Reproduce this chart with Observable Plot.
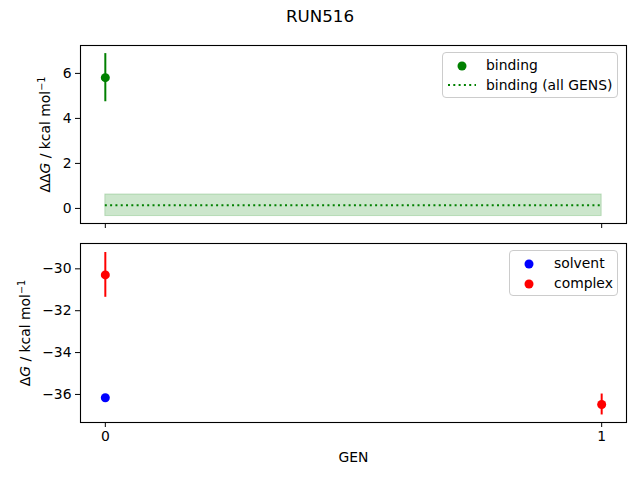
<!DOCTYPE html>
<html><head><meta charset="utf-8">
<script src="https://cdn.jsdelivr.net/npm/d3@7"></script>
<script src="https://cdn.jsdelivr.net/npm/@observablehq/plot@0.6"></script>
<style>
body{margin:0;background:#fff;font-family:"DejaVu Sans",sans-serif;}
#wrap{position:relative;width:640px;height:480px;overflow:hidden;}
#title{position:absolute;left:0;top:0;width:640px;text-align:center;font-size:16.7px;line-height:33px;color:#000;}
#top{position:absolute;left:0;top:30px;}
#bot{position:absolute;left:0;top:233px;}
.legend{position:absolute;background:rgba(255,255,255,0.8);border:1px solid #cccccc;border-radius:4px;font-size:13.9px;color:#000;box-sizing:border-box;}
.row{position:absolute;left:0;height:20px;line-height:20px;white-space:nowrap;}
.row svg{position:absolute;left:0;top:0;}
.row span{position:absolute;}
</style>
</head><body>
<div id="wrap">
  <div id="title">RUN516</div>
  <div id="top"></div>
  <div id="bot"></div>
  <div class="legend" style="left:442px;top:52px;width:176px;height:46px;">
    <div class="row" style="top:2px;width:176px;"><svg width="40" height="20"><circle cx="19" cy="11" r="4.5" fill="green"/></svg><span style="left:43px;top:0">binding</span></div>
    <div class="row" style="top:22px;width:176px;"><svg width="40" height="20"><line x1="5" x2="33" y1="10" y2="10" stroke="green" stroke-width="2" stroke-dasharray="2,3.3"/></svg><span style="left:43px;top:0">binding (all GENS)</span></div>
  </div>
  <div class="legend" style="left:509px;top:250px;width:109px;height:46px;">
    <div class="row" style="top:2px;width:109px;"><svg width="40" height="20"><circle cx="19" cy="11" r="4.5" fill="blue"/></svg><span style="left:44px;top:0">solvent</span></div>
    <div class="row" style="top:22px;width:109px;"><svg width="40" height="20"><circle cx="19" cy="11" r="4.5" fill="red"/></svg><span style="left:44px;top:0">complex</span></div>
  </div>
</div>
<script>
// ---- data ----
const bindingGens = [0];
const bindingValues = [5.81];
const bindingErrors = [1.07];

const allGensRange = [0, 1];
const allGensValue = 0.14;
const allGensError = 0.48;

const solventGens = [0];
const solventValues = [-36.16];
const solventErrors = [0.0];

const complexGens = [0, 1];
const complexValues = [-30.29, -36.48];
const complexErrors = [1.07, 0.50];

const xTicks = [0, 1];
const topYTicks = [0, 2, 4, 6];
const bottomYTicks = [-36, -34, -32, -30];

// ---- tables ----
const binding = bindingGens.map((g, i) => ({gen: g, v: bindingValues[i], e: bindingErrors[i]}));
const allGens = [{g0: allGensRange[0], g1: allGensRange[1], v: allGensValue, e: allGensError}];
const solvent = solventGens.map((g, i) => ({gen: g, v: solventValues[i], e: solventErrors[i]}));
const complex = complexGens.map((g, i) => ({gen: g, v: complexValues[i], e: complexErrors[i]}));

const minus = d => d < 0 ? "\u2212" + Math.abs(d) : String(d);
const style = {fontFamily: "DejaVu Sans, sans-serif", fontSize: "13.9px", background: "white", color: "black"};
const xDomain = [-0.05, 1.05];

function fixLabel(svg, prefix) {
  const t = d3.select(svg).select('g[aria-label="y-axis label"] text');
  if (t.empty()) return;
  t.text(null);
  t.append("tspan").text(prefix);
  t.append("tspan").attr("font-style", "italic").text("G");
  t.append("tspan").text(" / kcal mol");
  t.append("tspan").attr("font-size", "9.7px").attr("dy", "-0.55em").text("\u22121");
}

const topPlot = Plot.plot({
  width: 640, height: 203,
  marginTop: 15, marginBottom: 10, marginLeft: 80, marginRight: 14,
  style,
  x: {domain: xDomain},
  y: {domain: [-0.67, 7.24]},
  marks: [
    Plot.rect(allGens, {x1: "g0", x2: "g1", y1: d => d.v - d.e, y2: d => d.v + d.e, fill: "green", fillOpacity: 0.2, stroke: "green", strokeOpacity: 0.2}),
    Plot.ruleY(allGens, {x1: "g0", x2: "g1", y: "v", stroke: "green", strokeWidth: 2, strokeDasharray: "2,3.3"}),
    Plot.ruleX(binding, {x: "gen", y1: d => d.v - d.e, y2: d => d.v + d.e, stroke: "green", strokeWidth: 2}),
    Plot.dot(binding, {x: "gen", y: "v", r: 4.5, fill: "green"}),
    Plot.frame({stroke: "black", strokeWidth: 1.1}),
    Plot.axisX({ticks: xTicks, tickFormat: () => "", tickSize: 5, label: null}),
    Plot.axisY({ticks: topYTicks, tickFormat: minus, tickSize: 5, tickPadding: 4, label: "ΔΔG / kcal mol⁻¹", labelAnchor: "center", labelOffset: 40, labelArrow: "none"})
  ]
});
fixLabel(topPlot, "ΔΔ");
document.getElementById("top").appendChild(topPlot);

const botPlot = Plot.plot({
  width: 640, height: 247,
  marginTop: 10, marginBottom: 58, marginLeft: 80, marginRight: 14,
  style,
  x: {domain: xDomain},
  y: {domain: [-37.34, -28.79]},
  marks: [
    Plot.ruleX(solvent, {x: "gen", y1: d => d.v - d.e, y2: d => d.v + d.e, stroke: "blue", strokeWidth: 2}),
    Plot.dot(solvent, {x: "gen", y: "v", r: 4.5, fill: "blue"}),
    Plot.ruleX(complex, {x: "gen", y1: d => d.v - d.e, y2: d => d.v + d.e, stroke: "red", strokeWidth: 2}),
    Plot.dot(complex, {x: "gen", y: "v", r: 4.5, fill: "red"}),
    Plot.frame({stroke: "black", strokeWidth: 1.1}),
    Plot.axisX({ticks: xTicks, tickFormat: d => String(d), tickSize: 5, tickPadding: 4, label: "GEN", labelAnchor: "center", labelOffset: 39, labelArrow: "none"}),
    Plot.axisY({ticks: bottomYTicks, tickFormat: minus, tickSize: 5, tickPadding: 4, label: "ΔG / kcal mol⁻¹", labelAnchor: "center", labelOffset: 60, labelArrow: "none"})
  ]
});
fixLabel(botPlot, "Δ");
document.getElementById("bot").appendChild(botPlot);
</script>
</body></html>
